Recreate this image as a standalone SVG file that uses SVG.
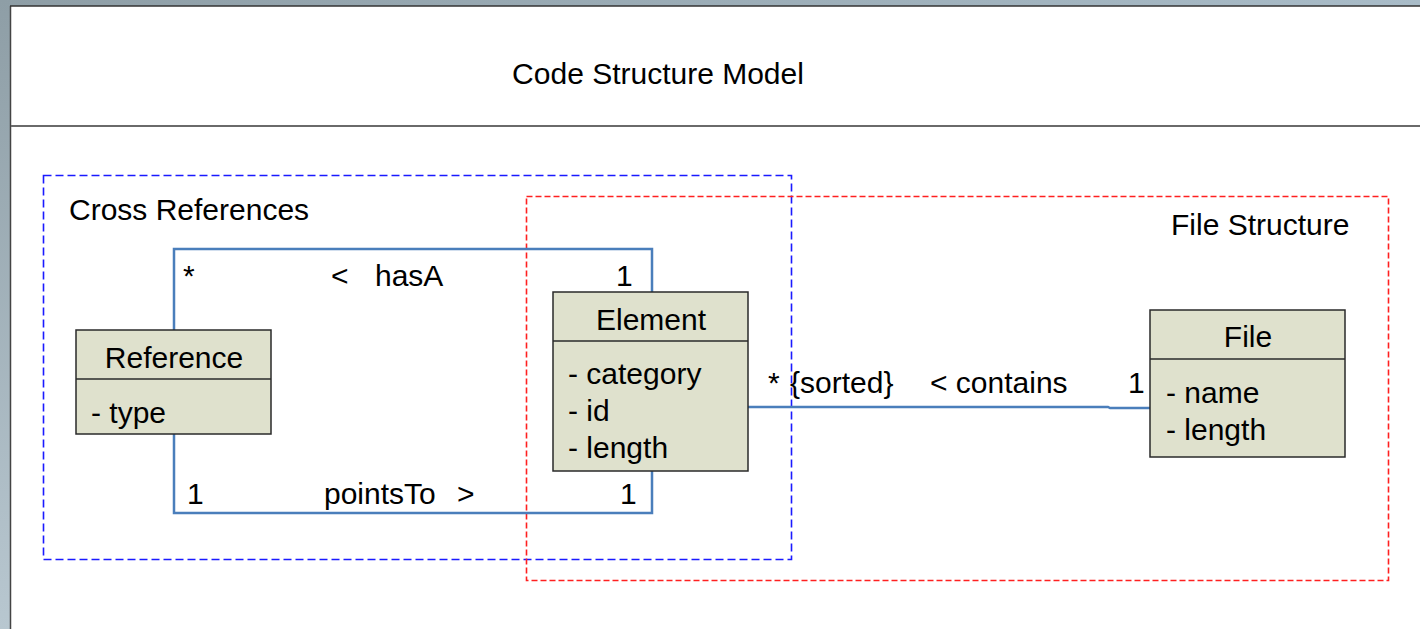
<svg xmlns="http://www.w3.org/2000/svg" width="1420" height="629" viewBox="0 0 1420 629">
<defs>
<linearGradient id="frameTop" x1="0" y1="0" x2="1" y2="0">
<stop offset="0" stop-color="#8e9ea6"/><stop offset="1" stop-color="#a9bcc8"/>
</linearGradient>
<linearGradient id="frameLeft" x1="0" y1="0" x2="0" y2="1">
<stop offset="0" stop-color="#8e9ea6"/><stop offset="1" stop-color="#b8c7d0"/>
</linearGradient>
</defs>
<style>
text{font-family:"Liberation Sans",Arial,sans-serif;font-size:30px;fill:#000}
.cls{fill:#dfe1cd;stroke:#2a2a2a;stroke-width:1.5}
.div{stroke:#2a2a2a;stroke-width:1.5}
.conn{fill:none;stroke:#4a7ebb;stroke-width:2.5}
.mid{text-anchor:middle}
.grp{fill:none;stroke-width:1.6}
</style>
<rect x="0" y="0" width="1420" height="629" fill="#ffffff"/>
<rect x="0" y="0" width="1420" height="6" fill="url(#frameTop)"/>
<rect x="0" y="0" width="10" height="629" fill="url(#frameLeft)"/>
<line x1="10.5" y1="6" x2="10.5" y2="629" stroke="#444" stroke-width="1.5"/>
<line x1="10" y1="6" x2="1420" y2="6" stroke="#333" stroke-width="1.5"/>
<line x1="11" y1="126" x2="1420" y2="126" stroke="#6a6a6a" stroke-width="2"/>
<text x="658" y="84" class="mid">Code Structure Model</text>

<g id="group-cross-references">
<rect class="grp" x="43.5" y="175.5" width="748" height="384" stroke="#1a1aff" stroke-dasharray="8,4"/>
<text x="69" y="220">Cross References</text>
</g>
<g id="group-file-structure">
<rect class="grp" x="526.5" y="196.5" width="862" height="384" stroke="#ff2020" stroke-dasharray="6,3"/>
<text x="1171" y="235">File Structure</text>
</g>

<g id="connectors">
<g id="hasA">
<polyline class="conn" points="174,330 174,249 652,249 652,292"/>
<text x="183" y="286">*</text>
<text x="331" y="286">&lt;</text>
<text x="375" y="286">hasA</text>
<text x="616" y="286">1</text>
</g>
<g id="pointsTo">
<polyline class="conn" points="174,434 174,513 652,513 652,471"/>
<text x="187" y="504">1</text>
<text x="324" y="504">pointsTo</text>
<text x="457" y="504">&gt;</text>
<text x="620" y="504">1</text>
</g>
<g id="contains">
<polyline class="conn" points="748,407 1108,407 1110,408 1150,408"/>
<text x="768" y="393">*</text>
<text x="790" y="393">{sorted}</text>
<text x="930" y="393">&lt; contains</text>
<text x="1128" y="393">1</text>
</g>
</g>

<g id="node-reference">
<rect class="cls" x="76" y="330" width="195" height="104"/>
<line class="div" x1="76" y1="379" x2="271" y2="379"/>
<text x="174" y="368" class="mid">Reference</text>
<text x="91" y="423">- type</text>
</g>
<g id="node-element">
<rect class="cls" x="553" y="292" width="195" height="179"/>
<line class="div" x1="553" y1="341" x2="748" y2="341"/>
<text x="651" y="330" class="mid">Element</text>
<text x="568" y="384">- category</text>
<text x="568" y="421">- id</text>
<text x="568" y="458">- length</text>
</g>
<g id="node-file">
<rect class="cls" x="1150" y="310" width="195" height="147"/>
<line class="div" x1="1150" y1="359" x2="1345" y2="359"/>
<text x="1248" y="347" class="mid">File</text>
<text x="1166" y="403">- name</text>
<text x="1166" y="440">- length</text>
</g>
</svg>
